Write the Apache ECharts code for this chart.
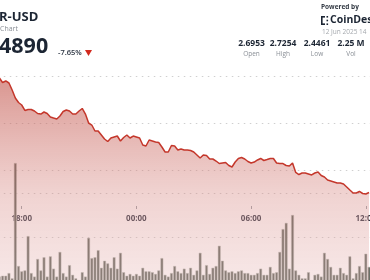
<!DOCTYPE html>
<html><head><meta charset="utf-8">
<script src="https://cdn.jsdelivr.net/npm/echarts@6/dist/echarts.min.js"></script>
<style>html,body{margin:0;padding:0;background:#fff}#c{width:370px;height:280px}</style>
</head><body><div id="c"></div>
<script>
const times = [
'16:50','17:00','17:10','17:20','17:30','17:40','17:50','18:00','18:10','18:20','18:30','18:40','18:50',
'19:00','19:10','19:20','19:30','19:40','19:50','20:00','20:10','20:20','20:30','20:40','20:50',
'21:00','21:10','21:20','21:30','21:40','21:50','22:00','22:10','22:20','22:30','22:40','22:50',
'23:00','23:10','23:20','23:30','23:40','23:50','00:00','00:10','00:20','00:30','00:40','00:50',
'01:00','01:10','01:20','01:30','01:40','01:50','02:00','02:10','02:20','02:30','02:40','02:50',
'03:00','03:10','03:20','03:30','03:40','03:50','04:00','04:10','04:20','04:30','04:40','04:50',
'05:00','05:10','05:20','05:30','05:40','05:50','06:00','06:10','06:20','06:30','06:40','06:50',
'07:00','07:10','07:20','07:30','07:40','07:50','08:00','08:10','08:20','08:30','08:40','08:50',
'09:00','09:10','09:20','09:30','09:40','09:50','10:00','10:10','10:20','10:30','10:40','10:50',
'11:00','11:10','11:20','11:30','11:40','11:50','12:00','12:10'];
const price = [
2.6957,2.6862,2.6894,2.6851,2.6702,2.6532,2.6436,2.6383,2.6266,2.6287,
2.6287,2.6255,2.6202,2.6191,2.6234,2.6202,2.6128,2.6106,2.6085,2.6149,
2.6245,2.6277,2.6255,2.6191,2.6191,2.6255,2.6309,2.6191,2.6000,2.5957,
2.5830,2.5830,2.5745,2.5660,2.5606,2.5681,2.5702,2.5723,2.5617,2.5691,
2.5745,2.5681,2.5723,2.5702,2.5681,2.5532,2.5511,2.5638,2.5617,2.5596,
2.5585,2.5489,2.5383,2.5383,2.5521,2.5511,2.5426,2.5447,2.5426,2.5426,
2.5415,2.5383,2.5319,2.5255,2.5319,2.5309,2.5234,2.5234,2.5191,2.5138,
2.5149,2.5160,2.5096,2.5064,2.5170,2.5245,2.5266,2.5234,2.5181,2.5149,
2.5170,2.5213,2.5245,2.5202,2.5223,2.5245,2.5245,2.5149,2.5138,2.5138,
2.5096,2.5085,2.5149,2.4947,2.4904,2.4936,2.4936,2.4915,2.4894,2.4936,
2.4957,2.4883,2.4851,2.4787,2.4766,2.4745,2.4723,2.4723,2.4702,2.4638,
2.4574,2.4511,2.4511,2.4543,2.4500,2.4489,2.4521];
const volume = [
5,6,6,9,3,134,17,11,12,51,
9,5,25,12,27,5,28,14,5,33,
9,5,18,7,3,1,10,5,49,26,
27,35,15,23,20,15,27,14,32,10,
6,8,6,8,6,15,11,11,10,8,
12,26,7,5,9,17,11,9,14,9,
15,7,12,32,7,18,8,15,17,40,
23,12,10,11,9,11,12,9,9,7,
7,9,14,7,7,16,9,10,33,59,
66,14,75,12,7,3,3,10,1,7,
8,5,32,25,16,7,7,15,9,7,
28,3,9,17,10,31,16];
const tickLabels = ['18:00','00:00','06:00','12:00'];
const pair = 'R-USD', subtitle = 'Chart', lastPrice = '4890', change = '-7.65%';
const statValues = ['2.6953','2.7254','2.4461','2.25 M'];
const statNames = ['Open','High','Low','Vol'];

const T = 'rgba(0,0,0,0)', G = '#cfcfcf';
const chart = echarts.init(document.getElementById('c'), null, {renderer:'canvas'});
const statX = [251.5, 283, 317, 351];
const graphics = [
  {type:'text', x:-1, y:17.5, style:{text:pair, font:'bold 13px "Open Sans"', fill:'#1c2533', textVerticalAlign:'middle'}},
  {type:'text', x:0, y:28.5, style:{text:subtitle, font:'7px "Open Sans"', fill:'#8a8f96', textVerticalAlign:'middle'}},
  {type:'text', x:-1, y:47, style:{text:lastPrice, font:'bold 21.5px "Open Sans"', fill:'#1c2533', textVerticalAlign:'middle'}},
  {type:'text', x:58, y:52.5, style:{text:change, font:'600 7.5px "Open Sans"', fill:'#2a3340', textVerticalAlign:'middle'}},
  {type:'polygon', shape:{points:[[85,50],[92,50],[88.5,56]]}, style:{fill:'#d22a1e'}},
  {type:'text', x:321, y:7, style:{text:'Powered by', font:'bold 6.5px "Open Sans"', fill:'#333a44', textVerticalAlign:'middle'}},
  {type:'rect', shape:{x:321,y:16,width:1.6,height:9}, style:{fill:'#1c2533'}},
  {type:'rect', shape:{x:321,y:16,width:4,height:1.6}, style:{fill:'#1c2533'}},
  {type:'rect', shape:{x:321,y:23.4,width:4,height:1.6}, style:{fill:'#1c2533'}},
  {type:'rect', shape:{x:326.5,y:16,width:1.6,height:1.6}, style:{fill:'#1c2533'}},
  {type:'rect', shape:{x:326.5,y:19.7,width:1.6,height:1.6}, style:{fill:'#1c2533'}},
  {type:'rect', shape:{x:326.5,y:23.4,width:1.6,height:1.6}, style:{fill:'#1c2533'}},
  {type:'text', x:330, y:20.5, style:{text:'CoinDesk', font:'bold 10.5px "Open Sans"', fill:'#1c2533', textVerticalAlign:'middle'}},
  {type:'text', x:322, y:32, style:{text:'12 Jun 2025 14', font:'6.5px "Open Sans"', fill:'#a4a8ad', textVerticalAlign:'middle'}}
];
statValues.forEach((v,i)=>{
  graphics.push({type:'text', x:statX[i], y:43.5, style:{text:v, font:'bold 8.5px "Open Sans"', fill:'#1c2533', textAlign:'center', textVerticalAlign:'middle'}});
  graphics.push({type:'text', x:statX[i], y:54, style:{text:statNames[i], font:'6.5px "Open Sans"', fill:'#8a8f96', textAlign:'center', textVerticalAlign:'middle'}});
});

chart.setOption({
  animation:false,
  grid:[
    {left:-2.2, width:372.8, top:-18, bottom:-31, outerBoundsMode:'none', containLabel:false},
    {left:-2.2, width:372.8, top:17, bottom:-1, outerBoundsMode:'none', containLabel:false}
  ],
  xAxis:[
    {type:'category', gridIndex:0, data:times, position:'bottom', offset:-105,
     axisLine:{show:false},
     axisTick:{show:true, alignWithLabel:true, length:3, lineStyle:{color:'#9aa0a6'},
       interval:(i,v)=>tickLabels.indexOf(v)>=0},
     axisLabel:{show:true, margin:9, color:'#2b3240', fontSize:8, fontWeight:'bold', fontFamily:'Open Sans',
       hideOverlap:false, interval:(i,v)=>tickLabels.indexOf(v)>=0},
     splitLine:{show:false}},
    {type:'category', gridIndex:1, data:times, show:false}
  ],
  yAxis:[
    {type:'value', gridIndex:0, min:2.2, max:2.9, interval:0.1, axisLabel:{show:false}, axisLine:{show:false}, axisTick:{show:false},
     splitLine:{show:true, lineStyle:{color:[T,T,T,G,G,G,T,T], type:[1.5,4.5], width:1}}},
    {type:'value', gridIndex:1, min:0, max:300, interval:50, axisLabel:{show:false}, axisLine:{show:false}, axisTick:{show:false},
     splitLine:{show:true, lineStyle:{color:[T,G,G,T,T,T,T], type:[1.5,4.5], width:1}}}
  ],
  series:[
    {type:'line', xAxisIndex:0, yAxisIndex:0, data:price, symbol:'none', smooth:false,
     lineStyle:{color:'#c4372b', width:1.5},
     areaStyle:{color:new echarts.graphic.LinearGradient(0,0,0,1,[
       {offset:0, color:'rgba(192,78,68,0.85)'},
       {offset:0.5, color:'rgba(216,140,135,0.55)'},
       {offset:1, color:'rgba(236,200,200,0.45)'}])}},
    {type:'bar', xAxisIndex:1, yAxisIndex:1, data:volume, barWidth:2.8,
     itemStyle:{color:'#5b6158', borderColor:'#b9bdb6', borderWidth:0.5}}
  ],
  graphic:graphics
});
</script></body></html>
